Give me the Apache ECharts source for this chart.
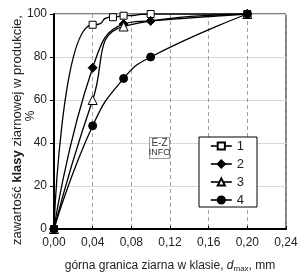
<!DOCTYPE html>
<html>
<head>
<meta charset="utf-8">
<script src="https://cdn.jsdelivr.net/npm/echarts@6/dist/echarts.min.js"></script>
<style>
html,body{margin:0;padding:0;background:#fff;}
#c{width:305px;height:278px;}
</style>
</head>
<body>
<div id="c"></div>
<script>
var xTicks = [0, 0.04, 0.08, 0.12, 0.16, 0.20, 0.24];
var yTicks = [0, 20, 40, 60, 80, 100];
var seriesNames = ['1', '2', '3', '4'];
var s1x = [0, 0.04, 0.061, 0.072, 0.10, 0.20];
var s1y = [0, 95, 98.5, 99.2, 100, 100];
var s2x = [0, 0.04, 0.072, 0.10, 0.20];
var s2y = [0, 75, 95.3, 96.8, 100];
var s3x = [0, 0.04, 0.072, 0.20];
var s3y = [0, 60, 94.2, 100];
var s4x = [0, 0.04, 0.072, 0.10, 0.20];
var s4y = [0, 48, 70, 80, 100];

function pairs(xs, ys) { return xs.map(function (x, i) { return [x, ys[i]]; }); }

var chart = echarts.init(document.getElementById('c'), null, {renderer: 'canvas'});
var FONT = 'Liberation Sans';
var lineStyle = {color: '#000', width: 1.3};
function mk(name, data, symbol, size, fill, smooth, mono) {
  var s = {
    name: name, type: 'line', data: data, smooth: smooth,
    symbol: symbol, symbolSize: size, showSymbol: true,
    lineStyle: lineStyle,
    itemStyle: {color: fill, borderColor: '#000', borderWidth: 1},
    emphasis: {disabled: true}, animation: false, z: 3
  };
  if (mono) s.smoothMonotone = mono;
  return s;
}
chart.setOption({
  animation: false,
  textStyle: {fontFamily: FONT},
  grid: {left: 54, right: 19, top: 14, bottom: 44, show: true, borderColor: '#000', borderWidth: 1, backgroundColor: 'transparent'},
  xAxis: {
    type: 'value', min: xTicks[0], max: xTicks[xTicks.length - 1], interval: 0.04,
    axisLine: {show: true, lineStyle: {color: '#000', width: 2}},
    axisTick: {show: true, inside: true, length: 3, lineStyle: {color: '#000'}},
    axisLabel: {color: '#222', fontSize: 12, fontFamily: FONT, margin: 8,
      formatter: function (v) { return v.toFixed(2).replace('.', ','); }},
    splitLine: {show: true, lineStyle: {color: '#a0a0a0', type: [4, 3], width: 1}},
    name: '{a|górna granica ziarna w klasie, }{i|d}{s|max}{a|, mm}',
    nameLocation: 'middle', nameGap: 30,
    nameTextStyle: {rich: {
      a: {fontSize: 12, fontFamily: FONT, color: '#222'},
      i: {fontSize: 12, fontFamily: FONT, fontStyle: 'italic', color: '#222'},
      s: {fontSize: 8, fontFamily: FONT, color: '#222', verticalAlign: 'bottom', padding: [6, 0, 0, 0]}
    }}
  },
  yAxis: {
    type: 'value', min: yTicks[0], max: yTicks[yTicks.length - 1], interval: 20,
    axisLine: {show: true, lineStyle: {color: '#000', width: 2}},
    axisTick: {show: true, inside: false, length: 4, lineStyle: {color: '#000'}},
    axisLabel: {color: '#222', fontSize: 12, fontFamily: FONT, margin: 7},
    splitLine: {show: true, lineStyle: {color: '#d8d8d8', width: 1}}
  },
  legend: {
    orient: 'vertical', left: 199, top: 137,
    padding: [2, 13, 0, 11], itemGap: 4, itemWidth: 21, itemHeight: 9,
    backgroundColor: '#fff', borderColor: '#000', borderWidth: 1,
    lineStyle: {width: 1.6},
    textStyle: {fontSize: 13, lineHeight: 14, fontFamily: FONT, color: '#222'},
    data: seriesNames
  },
  graphic: [
    {type: 'text', x: 17, y: 130, rotation: Math.PI / 2, style: {
      text: '{a|zawartość }{b|klasy}{a| ziarnowej w produkcie,}',
      rich: {a: {fontSize: 13, fontFamily: FONT, fill: '#222'}, b: {fontSize: 13, fontFamily: FONT, fill: '#222', fontWeight: 'bold'}},
      align: 'center', verticalAlign: 'middle'}},
    {type: 'text', x: 31, y: 116, rotation: Math.PI / 2, style: {
      text: '%', fontSize: 12, fontFamily: FONT, fill: '#222', align: 'center', verticalAlign: 'middle'}},
    {type: 'rect', shape: {x: 149.5, y: 137.5, width: 20, height: 21}, style: {fill: '#fff', stroke: '#333', lineWidth: 1, lineDash: [1, 1]}, z: 10},
    {type: 'text', x: 159.5, y: 143, style: {text: 'E-Z', fontSize: 10, fontFamily: FONT, fill: '#333', align: 'center', verticalAlign: 'middle'}, z: 11},
    {type: 'text', x: 159.5, y: 153, style: {text: 'INFO', fontSize: 9, fontFamily: FONT, fill: '#333', align: 'center', verticalAlign: 'middle'}, z: 11}
  ],
  series: [
    mk(seriesNames[0], pairs(s1x, s1y), 'rect', 7, '#fff', 0.8, 'x'),
    mk(seriesNames[1], pairs(s2x, s2y), 'diamond', 9, '#000', 0.5),
    mk(seriesNames[2], pairs(s3x, s3y), 'triangle', 9, '#fff', 0.5),
    mk(seriesNames[3], pairs(s4x, s4y), 'circle', 8, '#000', 0.5)
  ]
});
</script>
</body>
</html>
